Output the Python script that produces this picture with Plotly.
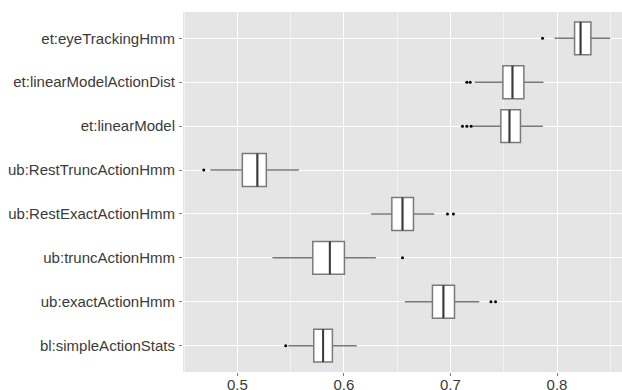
import plotly.graph_objects as go

categories = ["bl:simpleActionStats", "ub:exactActionHmm", "ub:truncActionHmm",
              "ub:RestExactActionHmm", "ub:RestTruncActionHmm", "et:linearModel",
              "et:linearModelActionDist", "et:eyeTrackingHmm"]
lower_whisker = [0.5479, 0.6572, 0.5329, 0.6255, 0.4747, 0.7204, 0.7229, 0.7977]
q1_vals =       [0.5717, 0.6831, 0.5708, 0.6450, 0.5047, 0.7473, 0.7492, 0.8165]
median_vals =   [0.5805, 0.6934, 0.5868, 0.6550, 0.5188, 0.7554, 0.7582, 0.8221]
q3_vals =       [0.5892, 0.7038, 0.6005, 0.6653, 0.5272, 0.7657, 0.7689, 0.8318]
upper_whisker = [0.6121, 0.7270, 0.6300, 0.6847, 0.5579, 0.7867, 0.7873, 0.8500]
outliers = [
    [0.5454],
    [0.7380, 0.7423],
    [0.6550],
    [0.6972, 0.7028],
    [0.4685],
    [0.7113, 0.7154, 0.7194],
    [0.7154, 0.7185],
    [0.7864],
]
x_ticks = [0.5, 0.6, 0.7, 0.8]

BOX_W = 0.75
positions = list(range(1, len(categories) + 1))

fig = go.Figure()
fig.add_trace(go.Box(
    y=positions, q1=q1_vals, median=median_vals, q3=q3_vals,
    lowerfence=lower_whisker, upperfence=upper_whisker,
    orientation="h", width=BOX_W, fillcolor="white",
    line=dict(color="#7a7a7a", width=1.5), boxpoints=False,
    whiskerwidth=0, showlegend=False, hoverinfo="skip",
))

# thicker median lines
mx, my = [], []
for p, m in zip(positions, median_vals):
    mx += [m, m, None]
    my += [p - BOX_W / 2, p + BOX_W / 2, None]
fig.add_trace(go.Scatter(x=mx, y=my, mode="lines",
                         line=dict(color="#3a3a3a", width=2),
                         showlegend=False, hoverinfo="skip"))

ox, oy = [], []
for p, outs in zip(positions, outliers):
    for o in outs:
        ox.append(o)
        oy.append(p)
fig.add_trace(go.Scatter(x=ox, y=oy, mode="markers",
                         marker=dict(color="black", size=3),
                         showlegend=False, hoverinfo="skip"))

font = "Liberation Sans, Arial, sans-serif"
fig.update_layout(
    template="none",
    width=622, height=390,
    margin=dict(l=183, r=0, t=12, b=18, pad=0),
    paper_bgcolor="white", plot_bgcolor="#E5E5E5",
    font=dict(family=font, size=15, color="#3a3a3a"),
    xaxis=dict(range=[0.449, 0.861], tickvals=x_ticks,
               ticktext=[f"{v:.1f}" for v in x_ticks],
               automargin=False,
               showgrid=True, gridcolor="white", gridwidth=1.2,
               zeroline=False, showline=False,
               ticks="outside", ticklen=3, tickcolor="#7f7f7f",
               ticklabelstandoff=-4,
               minor=dict(dtick=0.05, tick0=0.45, showgrid=True,
                          gridcolor="#F2F2F2", gridwidth=0.6, ticks=""),
               tickfont=dict(size=15, color="#3a3a3a")),
    yaxis=dict(range=[0.4, len(categories) + 0.6], tickvals=positions,
               ticktext=categories, showgrid=True, gridcolor="white",
               automargin=False,
               gridwidth=1.2, zeroline=False, showline=False,
               ticks="outside", ticklen=3, tickcolor="#7f7f7f",
               ticklabelstandoff=1,
               tickfont=dict(size=15, color="#3a3a3a")),
)

fig.write_html("out.html", config={"displayModeBar": False},
               post_script="document.body.style.margin='0';document.body.style.overflow='hidden';")
